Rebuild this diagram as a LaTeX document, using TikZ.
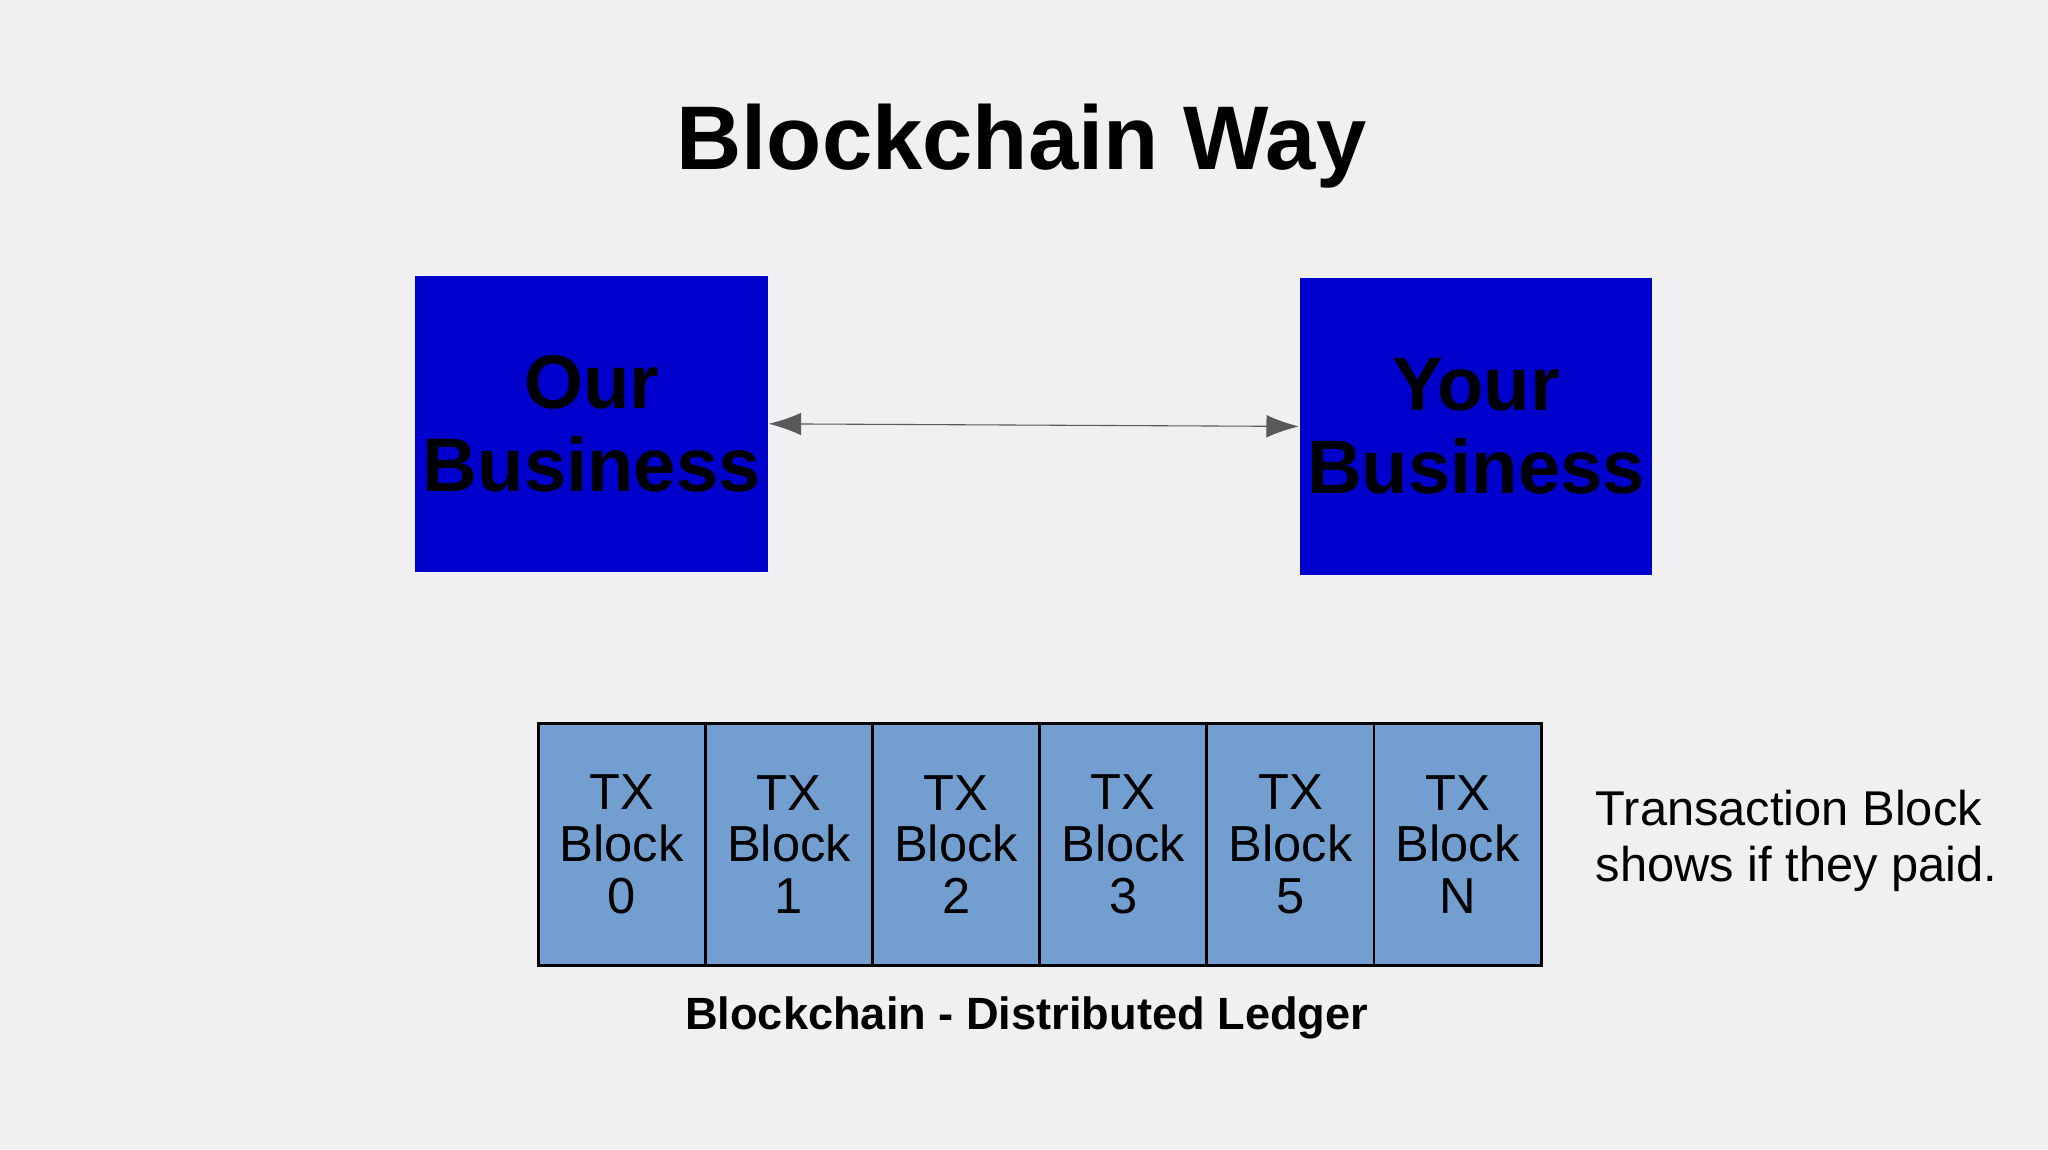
\documentclass[tikz,border=0pt]{standalone}
\usepackage{fontspec}
\setmainfont{Liberation Sans}
\usetikzlibrary{arrows.meta}
\definecolor{bg}{HTML}{F0F0F2}
\definecolor{biz}{HTML}{0000CC}
\definecolor{blk}{HTML}{729FCF}
\begin{document}
\begin{tikzpicture}[x=0.0127cm,y=-0.0127cm,
  biz/.style={draw=none,fill=biz,minimum width=270*0.0127cm,minimum height=227*0.0127cm,align=center,font=\fontsize{21}{23}\selectfont\bfseries,inner sep=0},
  tx/.style={draw=black,line width=0.8pt,fill=blk,minimum width=128*0.0127cm,minimum height=185*0.0127cm,align=center,font=\fontsize{14}{14.3}\selectfont,inner sep=0}]
\fill[bg] (0,0) rectangle (1568,880);
\useasboundingbox (0,0) rectangle (1568,880);
\node (title) at (782,112) {\fontsize{25}{28}\selectfont\bfseries Blockchain Way};
\node[biz] (our) at (453,324.5) {Our\\Business};
\node[biz] (your) at (1130,326.5) {Your\\Business};
\draw[{Latex[length=7mm*0.45,width=2.2mm]}-{Latex[length=7mm*0.45,width=2.2mm]},line width=0.3pt,gray!70!black] (our.east) -- (your.west);
\foreach \i/\t in {0/0,1/1,2/2,3/3,4/5,5/N}{
  \node[tx] (b\i) at (476+128*\i,646.5) {TX\\Block\\\t};
}
\node (ledger) at (786,779) {\fontsize{12.5}{14}\selectfont\bfseries Blockchain - Distributed Ledger};
\node[anchor=west,align=left,font=\fontsize{13.5}{15.5}\selectfont] (note) at (1212,644) {Transaction Block\\shows if they paid.};
\end{tikzpicture}
\end{document}
